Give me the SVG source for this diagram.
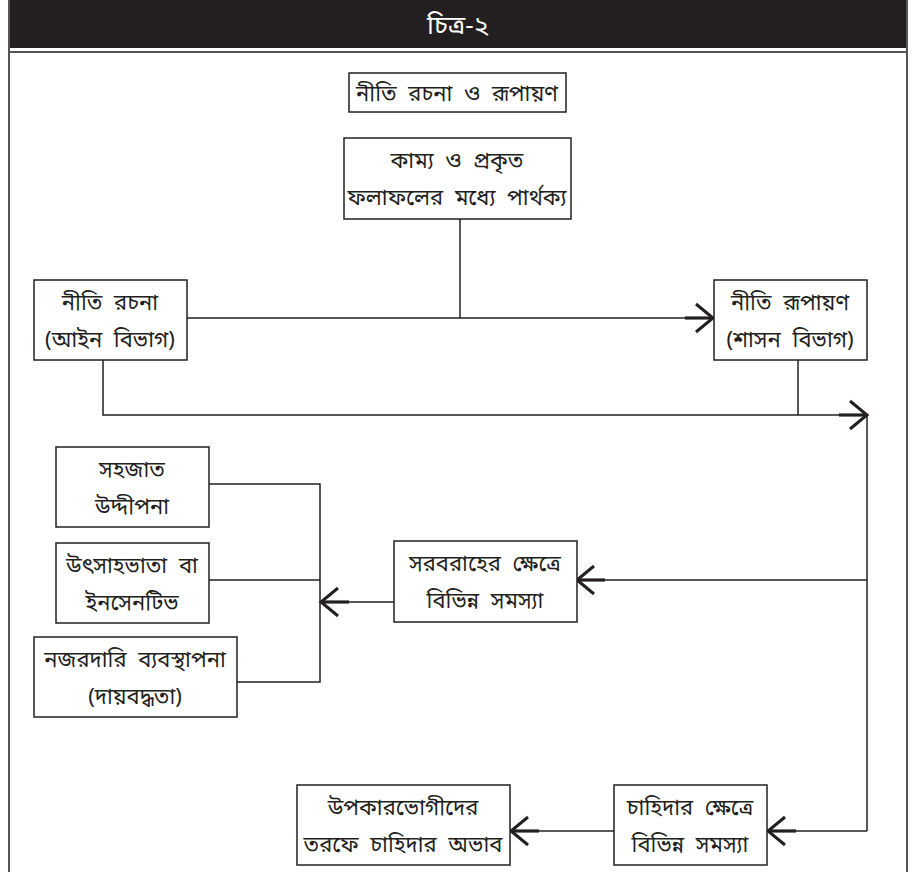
<svg xmlns="http://www.w3.org/2000/svg" width="923" height="872" viewBox="0 0 923 872">
<style>
.box{fill:#fff;stroke:#231f20;stroke-width:1.5}
.ln{fill:none;stroke:#231f20;stroke-width:1.5}
.fr{fill:none;stroke:#555;stroke-width:2}
text{font-family:"Noto Sans Bengali","Noto Serif Bengali","Noto Sans","Liberation Sans",sans-serif;font-size:22px;word-spacing:6px;fill:#231f20;text-anchor:middle}
.ttl{fill:#fff;font-size:26px;word-spacing:0}
</style>
<defs>
<marker id="ah" markerUnits="userSpaceOnUse" markerWidth="40" markerHeight="32" viewBox="-30 -16 32 32" refX="0" refY="0" orient="auto">
<path d="M-28,0 L-1,0" stroke="#231f20" stroke-width="3.2" fill="none"/>
<path d="M-17,-14 L0,0 L-17,14" stroke="#231f20" stroke-width="3" fill="none"/>
</marker>
</defs>
<g id="frame">
<rect x="8" y="0" width="899" height="48" fill="#231f20"/>
<line x1="8" y1="52" x2="907" y2="52" class="fr"/>
<line x1="9" y1="0" x2="9" y2="872" class="fr"/>
<line x1="907" y1="0" x2="907" y2="872" class="fr"/>
<text class="ttl" x="458" y="34">চিত্র-২</text>
</g>
<g id="connectors">
<polyline class="ln" points="460,219 460,318"/>
<polyline class="ln" points="187,318 713,318" marker-end="url(#ah)"/>
<polyline class="ln" points="103,360 103,415 867,415" marker-end="url(#ah)"/>
<polyline class="ln" points="798,360 798,415"/>
<polyline class="ln" points="867,415 867,831"/>
<polyline class="ln" points="867,580 577,580" marker-end="url(#ah)"/>
<polyline class="ln" points="867,831 768,831" marker-end="url(#ah)"/>
<polyline class="ln" points="614,831 511,831" marker-end="url(#ah)"/>
<polyline class="ln" points="394,602 321,602" marker-end="url(#ah)"/>
<polyline class="ln" points="209,484 320,484 320,682 237,682"/>
<polyline class="ln" points="209,580 320,580"/>
</g>
<g id="n-title">
<rect class="box" x="349" y="73" width="217" height="39"/>
<text x="457" y="101">নীতি রচনা ও রূপায়ণ</text>
</g>
<g id="n-gap">
<rect class="box" x="344" y="138" width="227" height="81"/>
<text x="457" y="168">কাম্য ও প্রকৃত</text>
<text x="457" y="205">ফলাফলের মধ্যে পার্থক্য</text>
</g>
<g id="n-legis">
<rect class="box" x="34" y="280" width="153" height="80"/>
<text x="110" y="310">নীতি রচনা</text>
<text x="110" y="347">(আইন বিভাগ)</text>
</g>
<g id="n-exec">
<rect class="box" x="714" y="280" width="153" height="80"/>
<text x="790" y="310">নীতি রূপায়ণ</text>
<text x="790" y="347">(শাসন বিভাগ)</text>
</g>
<g id="n-innate">
<rect class="box" x="56" y="447" width="153" height="80"/>
<text x="132" y="477">সহজাত</text>
<text x="132" y="514">উদ্দীপনা</text>
</g>
<g id="n-incent">
<rect class="box" x="56" y="543" width="153" height="80"/>
<text x="132" y="573">উৎসাহভাতা বা</text>
<text x="132" y="610">ইনসেনটিভ</text>
</g>
<g id="n-monitor">
<rect class="box" x="34" y="637" width="203" height="80"/>
<text x="135" y="667">নজরদারি ব্যবস্থাপনা</text>
<text x="135" y="704">(দায়বদ্ধতা)</text>
</g>
<g id="n-supply">
<rect class="box" x="394" y="541" width="183" height="81"/>
<text x="485" y="571">সরবরাহের ক্ষেত্রে</text>
<text x="485" y="608">বিভিন্ন সমস্যা</text>
</g>
<g id="n-lack">
<rect class="box" x="297" y="785" width="213" height="80"/>
<text x="403" y="815">উপকারভোগীদের</text>
<text x="403" y="852">তরফে চাহিদার অভাব</text>
</g>
<g id="n-demand">
<rect class="box" x="614" y="785" width="153" height="80"/>
<text x="690" y="815">চাহিদার ক্ষেত্রে</text>
<text x="690" y="852">বিভিন্ন সমস্যা</text>
</g>
</svg>
